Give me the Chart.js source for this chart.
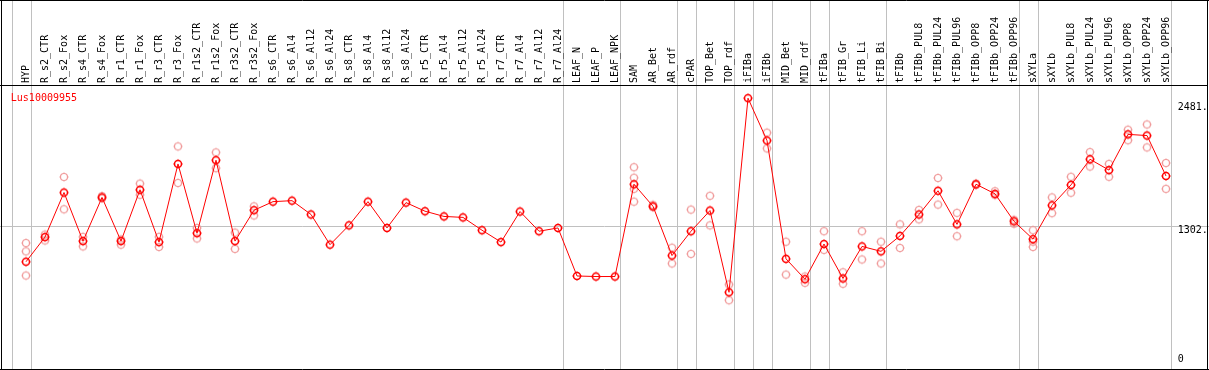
<!DOCTYPE html>
<html>
<head>
<meta charset="utf-8">
<script src="https://cdn.jsdelivr.net/npm/chart.js@4/dist/chart.umd.min.js"></script>
<style>
  html, body { margin: 0; padding: 0; background: #fff; }
  canvas { display: block; }
</style>
</head>
<body>
<canvas id="myChart" width="1209" height="370"></canvas>
<script>
var geneName = 'Lus10009955';

var labels = ['HYP', 'R_s2_CTR', 'R_s2_Fox', 'R_s4_CTR', 'R_s4_Fox', 'R_r1_CTR', 'R_r1_Fox', 'R_r3_CTR', 'R_r3_Fox',
    'R_r1s2_CTR', 'R_r1s2_Fox', 'R_r3s2_CTR', 'R_r3s2_Fox', 'R_s6_CTR', 'R_s6_Al4', 'R_s6_Al12', 'R_s6_Al24',
    'R_s8_CTR', 'R_s8_Al4', 'R_s8_Al12', 'R_s8_Al24', 'R_r5_CTR', 'R_r5_Al4', 'R_r5_Al12', 'R_r5_Al24',
    'R_r7_CTR', 'R_r7_Al4', 'R_r7_Al12', 'R_r7_Al24', 'LEAF_N', 'LEAF_P', 'LEAF_NPK', 'SAM', 'AR_Bet', 'AR_rdf',
    'cPAR', 'TOP_Bet', 'TOP_rdf', 'iFIBa', 'iFIBb', 'MID_Bet', 'MID_rdf', 'tFIBa', 'tFIB_Gr', 'tFIB_Li', 'tFIB_Bi',
    'tFIBb', 'tFIBb_PUL8', 'tFIBb_PUL24', 'tFIBb_PUL96', 'tFIBb_OPP8', 'tFIBb_OPP24', 'tFIBb_OPP96',
    'sXYLa', 'sXYLb', 'sXYLb_PUL8', 'sXYLb_PUL24', 'sXYLb_PUL96', 'sXYLb_OPP8', 'sXYLb_OPP24', 'sXYLb_OPP96'];

// mean expression per sample
var means = [976, 1203, 1613, 1166, 1568, 1166, 1638, 1157, 1876, 1239, 1910, 1166, 1450, 1529, 1538, 1411, 1133,
    1311, 1529, 1287, 1520, 1441, 1393, 1384, 1266, 1157, 1438, 1257, 1287, 845, 840, 840, 1689, 1486, 1033,
    1257, 1447, 695, 2481, 2091, 1003, 815, 1139, 822, 1117, 1072, 1214, 1411, 1629, 1320, 1689, 1601, 1348,
    1184, 1495, 1683, 1919, 1819, 2148, 2137, 1765];

// replicates
var rep1 = [1148, 1226, 1756, 1205, 1580, 1181, 1695, 1205, 2037, 1287, 1982, 1244, 1486,
    null, null, null, null, null, null, null, null, null, null, null, null, null, null, null, null, null, null, null,
    1846, 1500, 1105, 1456, 1583, 767, null, 2164, 1160, 840, 1257, 879, 1257, 1160, 1320, 1453, 1747, 1426,
    1695, 1625, 1362, 1266, 1568, 1758, 1985, 1876, 2191, 2239, 1885];
var rep2 = [1072, 1172, 1459, 1117, 1560, 1133, 1592, 1112, 1701, 1190, 1837, 1094, 1402,
    null, null, null, null, null, null, null, null, null, null, null, null, null, null, null, null, null, null, null,
    1749, 1478, 960, 1048, 1311, 622, null, 2019, 858, 782, 1085, 773, 997, 960, 1103, 1366, 1502, 1211,
    1683, 1589, 1326, 1160, 1423, 1611, 1852, 1758, 2094, 2028, 1647];
var extraReps = [['HYP', 849], ['SAM', 1647], ['SAM', 1529], ['sXYLa', 1112]];

var yTicks = [0, 1302, 2481];
var yTickLabels = ['0', '1302.', '2481.'];

// index of last sample in each group (-1 = left edge)
var groupEnds = [-1, 0, 28, 31, 34, 35, 37, 38, 39, 41, 42, 45, 52, 53, 60];

var monoFont = '10px "DejaVu Sans Mono", "Liberation Mono", monospace';

function makeMarker(color, lw) {
    var cv = document.createElement('canvas');
    cv.width = 12; cv.height = 12;
    var g = cv.getContext('2d');
    g.strokeStyle = color;
    g.lineWidth = lw;
    g.beginPath();
    g.arc(6, 6, 3.5, 0, Math.PI * 2);
    g.stroke();
    // tiny ticks round the ring
    g.fillStyle = color;
    g.globalAlpha = 0.6;
    g.fillRect(5.5, 1, 1, 1);
    g.fillRect(5.5, 10, 1, 1);
    g.fillRect(1, 5.5, 1, 1);
    g.fillRect(10, 5.5, 1, 1);
    return cv;
}
var meanMark = makeMarker('#ff0000', 1.5);
var repMark = makeMarker('#f09a9a', 1.2);

var framePlugin = {
    id: 'frame',
    beforeDatasetsDraw: function (chart) {
        var c = chart.ctx, xs = chart.scales.x, ys = chart.scales.y;
        var W = chart.width, H = chart.height;
        var step = xs.getPixelForValue(1) - xs.getPixelForValue(0);
        c.save();
        c.strokeStyle = '#c0c0c0';
        c.lineWidth = 1;
        c.beginPath();
        groupEnds.forEach(function (k) {
            var x = Math.round(xs.getPixelForValue(k) + step * 0.24) + 0.5;
            c.moveTo(x, 0); c.lineTo(x, H);
        });
        var gy = Math.round(ys.getPixelForValue(yTicks[1])) + 0.5;
        c.moveTo(0, gy); c.lineTo(W, gy);
        c.stroke();
        c.restore();
    },
    afterDraw: function (chart) {
        var c = chart.ctx, xs = chart.scales.x, ys = chart.scales.y, area = chart.chartArea;
        var W = chart.width, H = chart.height;
        var step = xs.getPixelForValue(1) - xs.getPixelForValue(0);
        c.save();
        c.font = monoFont;
        c.fillStyle = '#000';
        // rotated sample names in the header
        labels.forEach(function (lab, i) {
            c.save();
            c.translate(xs.getPixelForValue(i), area.top - 3);
            c.rotate(-Math.PI / 2);
            c.textAlign = 'left';
            c.textBaseline = 'middle';
            c.fillText(lab, 0, 0);
            c.restore();
        });
        // y labels on the right
        c.textAlign = 'left';
        c.textBaseline = 'middle';
        var lx = xs.getPixelForValue(labels.length - 1) + step * 0.62;
        yTicks.forEach(function (v, i) {
            var y = ys.getPixelForValue(v) + 4;
            y = Math.min(Math.max(y, area.top + 21), area.bottom - 6);
            c.fillText(yTickLabels[i], lx, y);
        });
        // gene name
        c.fillStyle = '#ff0000';
        c.textBaseline = 'alphabetic';
        c.fillText(geneName, xs.getPixelForValue(-1) + step * 0.2, area.top + 15);
        // black frame
        c.strokeStyle = '#000';
        c.lineWidth = 1;
        c.beginPath();
        c.moveTo(0, 0.5); c.lineTo(W, 0.5);
        c.moveTo(0, area.top - 0.5); c.lineTo(W - 1, area.top - 0.5);
        c.moveTo(0, H - 0.5); c.lineTo(W, H - 0.5);
        c.moveTo(1.5, 0); c.lineTo(1.5, H);
        c.moveTo(W - 1.5, 0); c.lineTo(W - 1.5, H);
        c.stroke();
        c.restore();
    }
};

var ctx = document.getElementById('myChart').getContext('2d');
var myChart = new Chart(ctx, {
    type: 'line',
    data: {
        labels: labels,
        datasets: [{
            label: 'mean',
            data: means,
            borderColor: '#ff0000',
            borderWidth: 1,
            tension: 0,
            pointStyle: meanMark,
            order: 0
        }, {
            label: 'rep1',
            data: rep1,
            showLine: false,
            pointStyle: repMark,
            order: 1
        }, {
            label: 'rep2',
            data: rep2,
            showLine: false,
            pointStyle: repMark,
            order: 1
        }, {
            label: 'rep3',
            data: extraReps.map(function (r) { return { x: r[0], y: r[1] }; }),
            showLine: false,
            pointStyle: repMark,
            order: 1
        }]
    },
    options: {
        responsive: false,
        animation: false,
        clip: false,
        layout: { padding: { left: 26, right: 43, top: 86, bottom: 1 } },
        plugins: { legend: { display: false }, tooltip: { enabled: false } },
        scales: {
            x: { type: 'category', display: false, offset: false },
            y: { display: false, min: 26, max: 2593 }
        }
    },
    plugins: [framePlugin]
});
</script>
</body>
</html>
